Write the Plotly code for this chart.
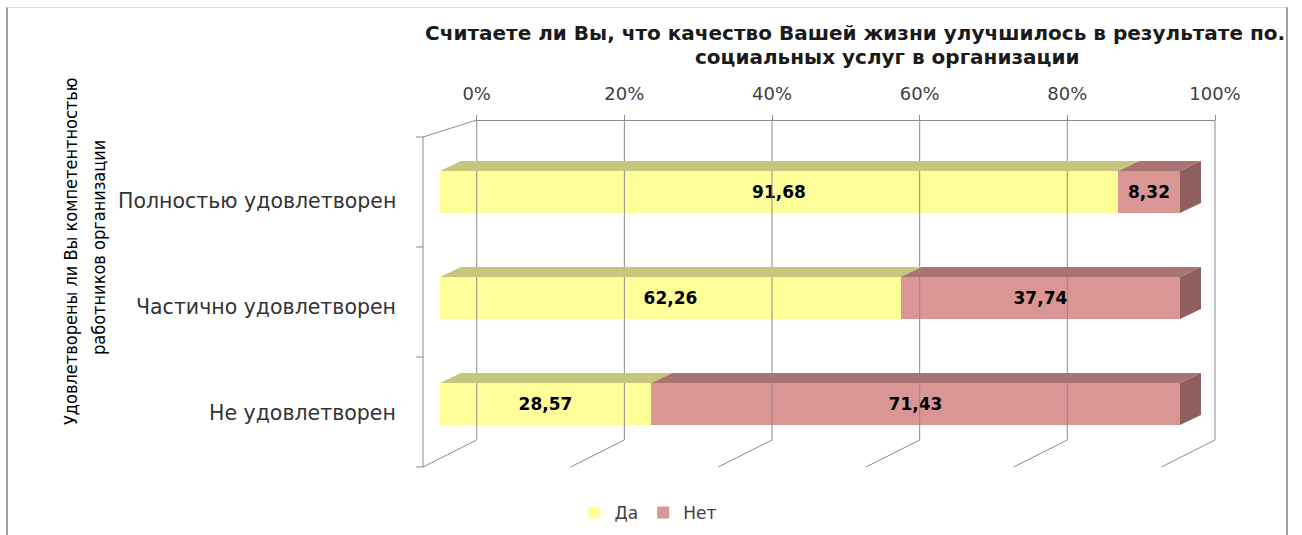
import plotly.graph_objects as go

# ---------------- data ----------------
categories = ["Полностью удовлетворен", "Частично удовлетворен", "Не удовлетворен"]
yes_values = [91.68, 62.26, 28.57]
no_values = [8.32, 37.74, 71.43]
series_names = ["Да", "Нет"]
tick_values = [0, 20, 40, 60, 80, 100]
tick_labels = ["0%", "20%", "40%", "60%", "80%", "100%"]
title_line1 = "Считаете ли Вы, что качество Вашей жизни улучшилось в результате по."
title_line2 = "социальных услуг в организации"
y_title_lines = ["Удовлетворены ли Вы компетентностью", "работников организации"]

# ---------------- geometry / style (screen px) ----------------
PAGE_MARGIN = 0
W, H = 1302 - 2 * PAGE_MARGIN, 535 - 2 * PAGE_MARGIN
X0, SX = 440, 7.40          # bar front: 0% position and px per percent
Y0, SY = 192, 106           # first bar centre and px per row
BAR_H = 42
DEPTH_DX, DEPTH_DY = 21, -10
BACK_X0, BACK_SX = 476.7, 7.383
WALL_TOP, WALL_BOTTOM = 120, 440
FRONT_X = 423
FLOOR_DY = 27
TOP_DY = 17
LEFT_TICKS = [137, 247, 357, 467]

YES_FRONT, YES_TOP = "#FFFF99", "#C6C67C"
NO_FRONT, NO_TOP, NO_SIDE = "#DA9694", "#A97371", "#8F5F5E"
GRID = "#8C8C8C"
FONT = "DejaVu Sans"


def vx(sx):
    return (sx - X0) / SX


def ry(sy):
    return (sy - Y0) / SY


def px(sx):
    return (sx - PAGE_MARGIN) / W


def py(sy):
    return 1 - (sy - PAGE_MARGIN) / H


rows = list(range(len(categories)))
fig = go.Figure()

# ---- walls / gridlines ----
wx, wy = [], []


def seg(x1, y1, x2, y2):
    wx.extend([vx(x1), vx(x2), None])
    wy.extend([ry(y1), ry(y2), None])


floor_dx = BACK_X0 - FRONT_X
for t in tick_values:
    bx = BACK_X0 + BACK_SX * t
    seg(bx, WALL_TOP, bx, WALL_BOTTOM)
    seg(bx, WALL_BOTTOM, bx - floor_dx, WALL_BOTTOM + FLOOR_DY)
seg(BACK_X0, WALL_TOP, FRONT_X, WALL_TOP + TOP_DY)
seg(FRONT_X, WALL_TOP + TOP_DY, FRONT_X, WALL_BOTTOM + FLOOR_DY)
for yk in LEFT_TICKS:
    seg(FRONT_X - 7, yk, FRONT_X, yk)
fig.add_trace(go.Scatter(x=wx, y=wy, mode="lines", line=dict(color=GRID, width=1),
                         showlegend=False, hoverinfo="skip"))

# ---- bar fronts ----
def fmt(v):
    return f"{v:.2f}".replace(".", ",")


bar_w = BAR_H / SY
for name, vals, col in [(series_names[0], yes_values, YES_FRONT),
                        (series_names[1], no_values, NO_FRONT)]:
    fig.add_trace(go.Bar(
        name=name, orientation="h", y=rows, x=vals, width=bar_w,
        marker=dict(color=col, line=dict(width=0)),
        text=[fmt(v) for v in vals], textposition="inside",
        insidetextanchor="middle", textangle=0,
        textfont=dict(family=FONT, size=17, color="#000000", weight="bold"),
        constraintext="none", hoverinfo="skip",
    ))

# ---- 3D top and side faces ----
ddx, ddy = DEPTH_DX / SX, DEPTH_DY / SY


def top_faces(starts, ends):
    xs, ys = [], []
    for r, a, b in zip(rows, starts, ends):
        yt = r - bar_w / 2
        xs += [a, b, b + ddx, a + ddx, a, None]
        ys += [yt, yt, yt + ddy, yt + ddy, yt, None]
    return xs, ys


zeros = [0] * len(rows)
ends_yes = yes_values
ends_no = [a + b for a, b in zip(yes_values, no_values)]
for (s, e, col) in [(zeros, ends_yes, YES_TOP), (ends_yes, ends_no, NO_TOP)]:
    xs, ys = top_faces(s, e)
    fig.add_trace(go.Scatter(x=xs, y=ys, mode="lines", fill="toself", fillcolor=col,
                             line=dict(width=0, color=col), showlegend=False,
                             hoverinfo="skip"))
sxs, sys_ = [], []
for r, e in zip(rows, ends_no):
    yt, yb = r - bar_w / 2, r + bar_w / 2
    sxs += [e, e + ddx, e + ddx, e, e, None]
    sys_ += [yt, yt + ddy, yb + ddy, yb, yt, None]
fig.add_trace(go.Scatter(x=sxs, y=sys_, mode="lines", fill="toself", fillcolor=NO_SIDE,
                         line=dict(width=0, color=NO_SIDE), showlegend=False,
                         hoverinfo="skip"))

# dummy trace carrying the top percentage axis
fig.add_trace(go.Scatter(x=[0, 100], y=[None, None], xaxis="x2", yaxis="y",
                         mode="markers", showlegend=False, hoverinfo="skip"))

# ---- annotations ----
ann = []
for r, c in zip(rows, categories):
    ann.append(dict(text=c, xref="paper", yref="y", x=px(398), y=r + 9 / SY,
                    xanchor="right", yanchor="middle", showarrow=False,
                    font=dict(family=FONT, size=20.5, color="#333333")))
ann.append(dict(text="<b>" + title_line1 + "</b>", xref="paper", yref="paper",
                x=px(423), y=py(33), xanchor="left", yanchor="middle", showarrow=False,
                font=dict(family=FONT, size=20, color="#1a1a1a")))
ann.append(dict(text="<b>" + title_line2 + "</b>", xref="paper", yref="paper",
                x=px(887), y=py(57), xanchor="center", yanchor="middle", showarrow=False,
                font=dict(family=FONT, size=20, color="#1a1a1a")))
for line, xc, yc in [(y_title_lines[0], 70, 252), (y_title_lines[1], 98, 248)]:
    ann.append(dict(text=line, xref="paper", yref="paper", x=px(xc), y=py(yc),
                    xanchor="center", yanchor="middle", showarrow=False, textangle=-90,
                    font=dict(family="DejaVu Sans Condensed, DejaVu Sans, sans-serif",
                              size=18, color="#000000")))

shapes = [
    dict(type="line", xref="paper", yref="paper", x0=px(7), x1=px(7), y0=py(7), y1=0,
         line=dict(color="#A0A0A0", width=2)),
    dict(type="line", xref="paper", yref="paper", x0=px(1287), x1=px(1287), y0=py(7), y1=0,
         line=dict(color="#A0A0A0", width=2)),
    dict(type="line", xref="paper", yref="paper", x0=px(7), x1=px(1287), y0=py(7.5), y1=py(7.5),
         line=dict(color="#DADADA", width=1)),
]

fig.update_layout(
    width=W, height=H, margin=dict(l=0, r=0, t=0, b=0, autoexpand=False),
    paper_bgcolor="white", plot_bgcolor="rgba(0,0,0,0)",
    barmode="stack", bargap=0,
    showlegend=True,
    legend=dict(orientation="h", x=px(648), y=py(513), xanchor="center", yanchor="middle",
                font=dict(family=FONT, size=17, color="#404040"), bgcolor="rgba(0,0,0,0)",
                traceorder="normal"),
    xaxis=dict(range=[vx(PAGE_MARGIN), vx(PAGE_MARGIN + W)], visible=False, fixedrange=True),
    yaxis=dict(range=[ry(PAGE_MARGIN + H), ry(PAGE_MARGIN)], visible=False, fixedrange=True),
    xaxis2=dict(domain=[px(BACK_X0), px(BACK_X0 + BACK_SX * 100)], range=[0, 100],
                anchor="free", position=py(WALL_TOP), side="top",
                tickvals=tick_values, ticktext=tick_labels,
                showline=True, linecolor=GRID, linewidth=1,
                ticks="outside", ticklen=5, tickcolor=GRID,
                showgrid=False, zeroline=False, ticklabelstandoff=8,
                tickfont=dict(family=FONT, size=18, color="#404040")),
    annotations=ann, shapes=shapes,
)

fig.write_html(
    "out.html",
    config={"displayModeBar": False, "displaylogo": False},
    post_script=("document.documentElement.style.margin='0';"
                 "document.body.style.margin='0';"
                 "document.body.style.overflow='hidden';"
                 "document.documentElement.style.overflow='hidden';"),
)
